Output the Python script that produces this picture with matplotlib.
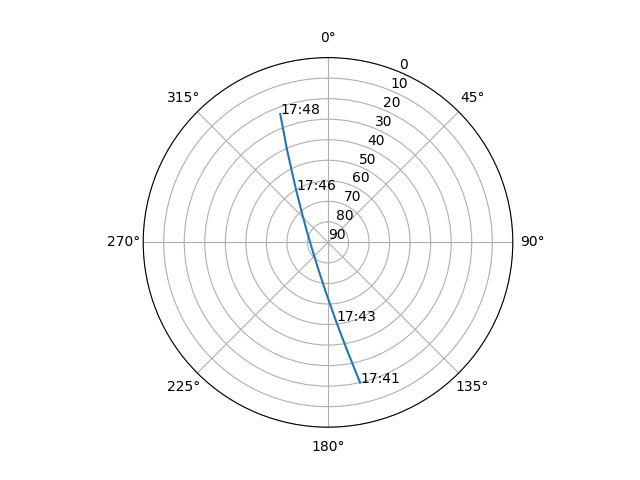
import numpy as np
import matplotlib.pyplot as plt

# satellite pass (azimuth in degrees, elevation in degrees)
azimuth = [167.1, 170.0, 174.2, 183.5, 198.9, 228.3, 257.9, 270.0, 300.0,
           317.0, 328.7, 336.1, 339.6]
elevation = [19.9, 36.8, 51.5, 66.8, 75.8, 80.8, 81.6, 81.3, 77.9,
             71.8, 60.1, 40.8, 23.3]

# time labels placed on the track
label_times = ["17:41", "17:43", "17:46", "17:48"]
label_az = [167.1, 174.2, 328.7, 339.6]
label_el = [19.9, 51.5, 60.1, 23.3]

fig = plt.figure(figsize=(6.4, 4.8), dpi=100)
ax = fig.add_subplot(projection="polar")
ax.set_theta_zero_location("N")
ax.set_theta_direction(-1)

ax.plot(np.radians(azimuth), elevation)
for t, a, e in zip(label_times, label_az, label_el):
    ax.text(np.radians(a), e, t)

ax.set_ylim(90, 0)
ax.set_yticks(range(0, 91, 10))

fig.savefig("out.png")
